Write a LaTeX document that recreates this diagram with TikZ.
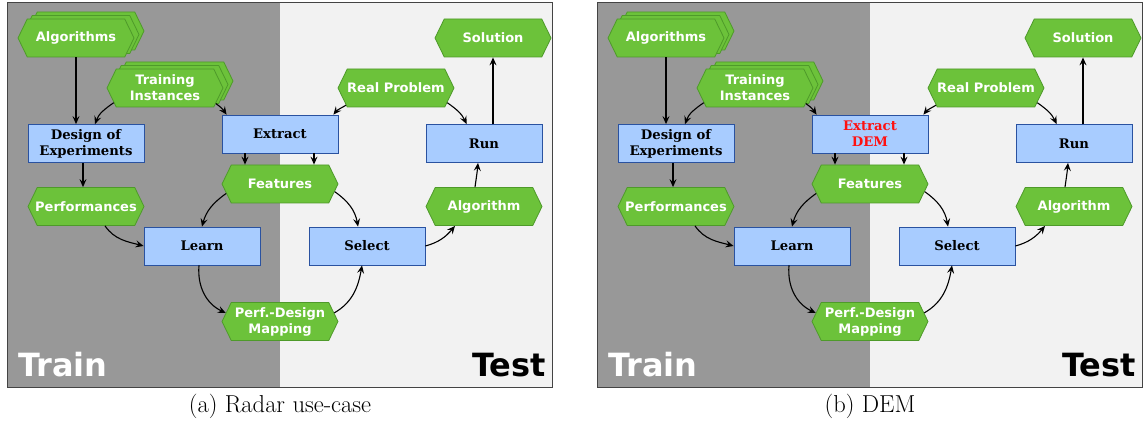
\documentclass[tikz,border=0pt]{standalone}
\usepackage{fontspec}
\usetikzlibrary{shapes.symbols,arrows.meta}
\newfontfamily\hexfont{DejaVu Sans}
\newfontfamily\boxfont{DejaVu Serif}
\definecolor{trainbg}{HTML}{989898}
\definecolor{testbg}{HTML}{F2F2F2}
\definecolor{framecol}{HTML}{444444}
\definecolor{hexfill}{HTML}{6CC23A}
\definecolor{hexborder}{HTML}{4E9A2A}
\definecolor{boxfill}{HTML}{A8CCFF}
\definecolor{boxborder}{HTML}{2A52A0}
\definecolor{demred}{HTML}{FF1010}
\tikzset{
  hexa/.style={shape=signal, signal to=east and west, signal pointer angle=128,
    draw=hexborder, line width=0.8pt, fill=hexfill, minimum width=116pt, minimum height=38pt,
    inner ysep=1pt, inner xsep=-4pt, text=white, align=center,
    font=\hexfont\bfseries\fontsize{13}{16}\selectfont},
  hexcopy/.style={hexa},
  procbox/.style={draw=boxborder, line width=0.8pt, fill=boxfill, minimum width=116pt,
    minimum height=38pt, inner sep=1pt, align=center,
    font=\boxfont\bfseries\fontsize{13.2}{16}\selectfont},
  arr/.style={-{Stealth[length=8pt,width=7pt,inset=3pt]}, line width=1.1pt, black},
  bigword/.style={font=\hexfont\bfseries\fontsize{32}{36}\selectfont, inner sep=0pt},
  captext/.style={font=\fontsize{24.5}{28}\selectfont, inner sep=0pt}
}
\newcommand\drawpanel[4]{%
\begin{scope}[xshift=#2pt]
  \fill[trainbg] (7,-3) rectangle (280,-387);
  \fill[testbg] (280,-3) rectangle (552,-387);
  \draw[framecol, line width=1pt] (7,-3) rectangle (552,-387);
  \node[hexcopy] (#1algcB) at (86,-31) {};
  \node[hexcopy] (#1algcA) at (81,-34.5) {};
  \node[hexa] (#1alg) at (76,-38) {Algorithms};
  \node[hexcopy] (#1ticB) at (175,-81) {};
  \node[hexcopy] (#1ticA) at (170,-84.5) {};
  \node[hexa] (#1ti) at (165,-88) {Training\\Instances};
  \node[procbox] (#1doe) at (86,-143.5) {Design of\\Experiments};
  \node[procbox] (#1ext) at (280,-134) {#3};
  \node[hexa] (#1feat) at (280,-184) {Features};
  \node[hexa] (#1rp) at (396,-88) {Real Problem};
  \node[hexa] (#1sol) at (493,-38) {Solution};
  \node[procbox] (#1run) at (484,-143.5) {Run};
  \node[hexa] (#1algo) at (484,-206.5) {Algorithm};
  \node[procbox] (#1sel) at (367,-246) {Select};
  \node[hexa] (#1pdm) at (280,-321.5) {Perf.-Design\\Mapping};
  \node[hexa] (#1perf) at (86,-206.5) {Performances};
  \node[procbox] (#1learn) at (202,-246) {Learn};
  \node[bigword, text=white, anchor=base west] (#1train) at (18,-376) {Train};
  \node[bigword, text=black, anchor=base east] (#1test) at (546,-376) {Test};
  \node[captext, anchor=base] (#1cap) at (280,-412) {#4};
  % connectors
  \draw[arr] (#1alg.south) -- (#1alg.south |- #1doe.north);
  \draw[arr] (#1ti.-164) to[out=-145, in=70] ([xshift=9pt]#1doe.north);
  \draw[arr] (#1ti.-17) to[out=-35, in=125] ([xshift=5pt]#1ext.north west);
  \draw[arr] ([xshift=-35pt]#1ext.south) -- ([xshift=-35pt]#1feat.north);
  \draw[arr] ([xshift=34pt]#1ext.south) -- ([xshift=34pt]#1feat.north);
  \draw[arr] (#1rp.-161) to[out=-150, in=50] ([xshift=-5pt]#1ext.north east);
  \draw[arr] (#1rp.-16) to[out=-35, in=115] ([xshift=41pt]#1run.north west);
  \draw[arr] (#1sol.south |- #1run.north) -- (#1sol.south);
  \draw[arr] ([xshift=-9pt]#1algo.north) to[out=82, in=-95] ([xshift=-6pt]#1run.south);
  \draw[arr] ([xshift=-3pt]#1doe.south) -- ([xshift=-3pt]#1perf.north);
  \draw[arr] ([xshift=19pt]#1perf.south) to[out=-55, in=165] (#1learn.west);
  \draw[arr] (#1feat.-170) to[out=-145, in=75] (#1learn.north);
  \draw[arr] ([xshift=-3pt]#1learn.south) to[out=-95, in=155] (#1pdm.171);
  \draw[arr] (#1pdm.9) to[out=30, in=-100] ([xshift=-5pt]#1sel.south);
  \draw[arr] (#1feat.-8) to[out=-35, in=100] ([xshift=-9pt]#1sel.north);
  \draw[arr] (#1sel.east) to[out=15, in=-130] ([xshift=-29pt]#1algo.south);
\end{scope}}
\begin{document}
\begin{tikzpicture}[x=1pt,y=1pt]
  \useasboundingbox (0,0) rectangle (1145,-435);
  \drawpanel{a}{0}{Extract}{(a) Radar use-case}
  \drawpanel{b}{590}{\textcolor{demred}{Extract}\\\textcolor{demred}{DEM}}{(b) DEM}
\end{tikzpicture}
\end{document}
